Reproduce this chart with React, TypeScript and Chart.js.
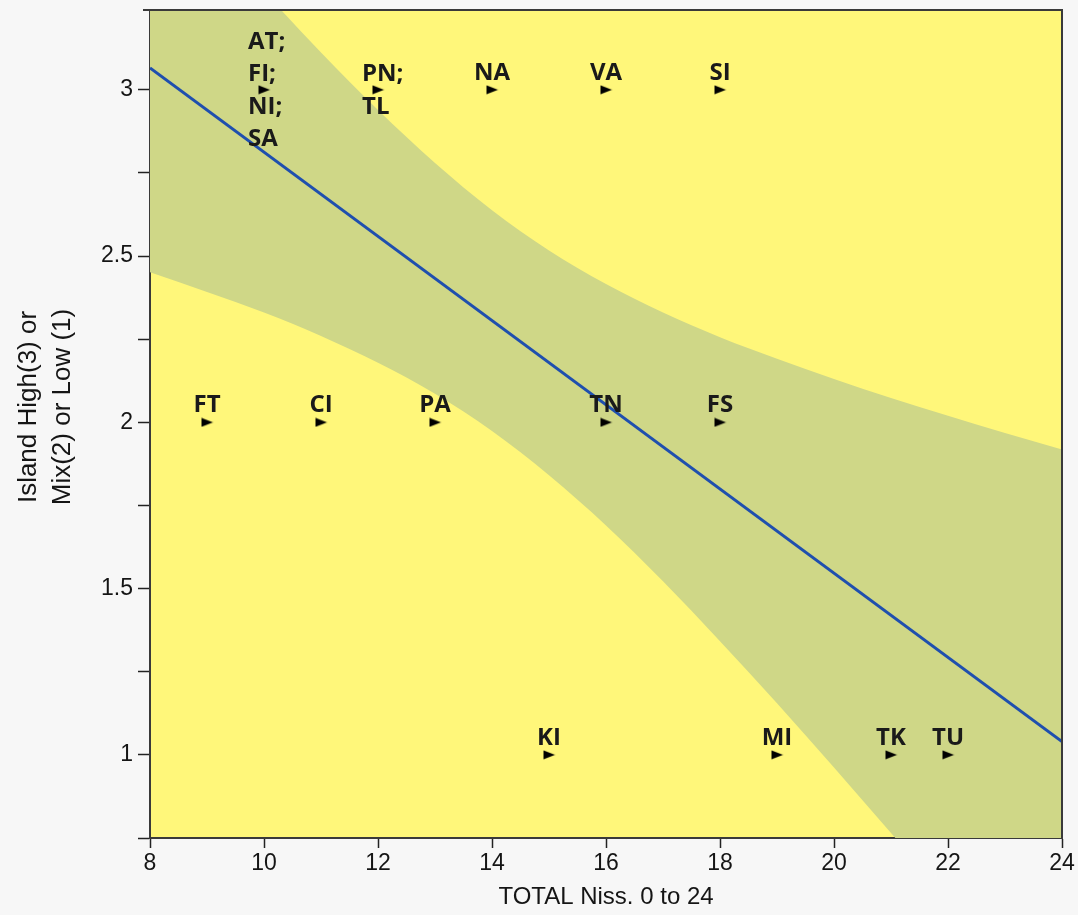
import React, { useEffect, useRef } from "react";
import { Chart, registerables } from "chart.js";

Chart.register(...registerables);

// ---- data ----
const pointX = [10, 12, 14, 16, 18, 9, 11, 13, 16, 18, 15, 19, 21, 22];
const pointY = [3, 3, 3, 3, 3, 2, 2, 2, 2, 2, 1, 1, 1, 1];
const pointLabels = [
  ["AT;", "FI;", "NI;", "SA"],
  ["PN;", "TL"],
  ["NA"],
  ["VA"],
  ["SI"],
  ["FT"],
  ["CI"],
  ["PA"],
  ["TN"],
  ["FS"],
  ["KI"],
  ["MI"],
  ["TK"],
  ["TU"],
];

const fitX = [8, 24];
const fitY = [3.066, 1.04];

const bandX = [8, 9, 10, 11, 12, 13, 14, 15, 16, 17, 18, 19, 20, 21, 22, 23, 24];
const bandUpper = [3.681, 3.486, 3.296, 3.112, 2.939, 2.78, 2.638, 2.517, 2.416, 2.33, 2.256, 2.191, 2.13, 2.073, 2.02, 1.968, 1.918];
const bandLower = [2.451, 2.392, 2.33, 2.26, 2.179, 2.086, 1.974, 1.841, 1.69, 1.522, 1.342, 1.155, 0.962, 0.765, 0.566, 0.364, 0.162];

const xTicks = [8, 10, 12, 14, 16, 18, 20, 22, 24];
const yTicks = [0.75, 1, 1.25, 1.5, 1.75, 2, 2.25, 2.5, 2.75, 3];
const yLabeled = [1, 1.5, 2, 2.5, 3];

const xTitle = "TOTAL Niss. 0 to 24";
const yTitle = ["Island High(3) or", "Mix(2) or Low (1)"];

const PAGE_BG = "#f7f7f7";
const PLOT_BG = "#fff77a";
const BAND = "#cfd787";
const LINE = "#1f4fae";
const FRAME = "#3a3a3a";
const TEXT = "#151515";
const AXIS_FONT = "'Liberation Sans', Arial, sans-serif";

function makeMarker() {
  const c = document.createElement("canvas");
  c.width = 13;
  c.height = 10;
  const ctx = c.getContext("2d")!;
  ctx.fillStyle = "#000";
  ctx.beginPath();
  ctx.moveTo(1, 0.5);
  ctx.lineTo(12.5, 5);
  ctx.lineTo(1, 9.5);
  ctx.closePath();
  ctx.fill();
  return c;
}

const bgPlugin = {
  id: "bg",
  beforeDraw(chart: any) {
    const { ctx, chartArea: a } = chart;
    ctx.save();
    ctx.fillStyle = PAGE_BG;
    ctx.fillRect(0, 0, chart.width, chart.height);
    ctx.fillStyle = PLOT_BG;
    ctx.fillRect(a.left, a.top, a.right - a.left, a.bottom - a.top);
    ctx.restore();
  },
  afterDraw(chart: any) {
    const { ctx, chartArea: a } = chart;
    ctx.save();
    ctx.strokeStyle = FRAME;
    ctx.lineWidth = 2;
    ctx.beginPath();
    ctx.moveTo(a.left - 7, a.top);
    ctx.lineTo(a.right + 1, a.top);
    ctx.moveTo(a.right, a.top);
    ctx.lineTo(a.right, a.bottom);
    ctx.stroke();
    // y title
    ctx.fillStyle = TEXT;
    ctx.font = `26px ${AXIS_FONT}`;
    ctx.textAlign = "center";
    ctx.textBaseline = "middle";
    yTitle.forEach((t, i) => {
      ctx.save();
      ctx.translate(29 + i * 34, 407);
      ctx.rotate(-Math.PI / 2);
      ctx.fillText(t, 0, 0);
      ctx.restore();
    });
    ctx.restore();
  },
};

const labelPlugin = {
  id: "pointLabels",
  afterDatasetsDraw(chart: any) {
    const { ctx, scales } = chart;
    ctx.save();
    ctx.fillStyle = "#1a1a1a";
    ctx.font = "bold 24px 'Open Sans', 'Noto Sans', sans-serif";
    ctx.textBaseline = "middle";
    pointLabels.forEach((lines, i) => {
      const px = scales.x.getPixelForValue(pointX[i]);
      const py = scales.y.getPixelForValue(pointY[i]);
      if (lines.length === 1) {
        ctx.textAlign = "center";
        ctx.fillText(lines[0], px, py - 17);
      } else {
        ctx.textAlign = "left";
        const step = 32.5;
        const start = py - ((lines.length - 1) * step) / 2;
        lines.forEach((l, j) => ctx.fillText(l, px - 16, start + j * step + 1));
      }
    });
    ctx.restore();
  },
};

export default function App() {
  const ref = useRef<HTMLCanvasElement>(null);
  useEffect(() => {
    const marker = makeMarker();
    const chart = new Chart(ref.current!, {
      type: "scatter",
      data: {
        datasets: [
          {
            label: "points",
            data: pointX.map((x, i) => ({ x, y: pointY[i] })),
            pointStyle: marker as any,
            pointRadius: 6,
            showLine: false,
          },
          {
            label: "fit",
            data: fitX.map((x, i) => ({ x, y: fitY[i] })),
            showLine: true,
            borderColor: LINE,
            borderWidth: 3,
            pointRadius: 0,
          },
          {
            label: "upper",
            data: bandX.map((x, i) => ({ x, y: bandUpper[i] })),
            showLine: true,
            borderWidth: 0,
            borderColor: "rgba(0,0,0,0)",
            backgroundColor: BAND,
            fill: "+1",
            pointRadius: 0,
            cubicInterpolationMode: "monotone",
          },
          {
            label: "lower",
            data: bandX.map((x, i) => ({ x, y: bandLower[i] })),
            showLine: true,
            borderWidth: 0,
            borderColor: "rgba(0,0,0,0)",
            pointRadius: 0,
            cubicInterpolationMode: "monotone",
          },
        ],
      },
      options: {
        animation: false,
        responsive: false,
        devicePixelRatio: 1,
        layout: { padding: { top: 10, right: 16, left: 0, bottom: 0 } },
        plugins: { legend: { display: false }, tooltip: { enabled: false } },
        scales: {
          x: {
            type: "linear",
            min: 8,
            max: 24,
            afterBuildTicks: (s: any) => {
              s.ticks = xTicks.map((v) => ({ value: v }));
            },
            afterFit: (s: any) => {
              s.height = 77;
              s.paddingLeft = 0;
              s.paddingRight = 0;
            },
            ticks: {
              color: TEXT,
              font: { family: AXIS_FONT, size: 23 },
              padding: 2,
              maxRotation: 0,
              callback: (v: any) => String(v),
            },
            grid: { drawOnChartArea: false, drawTicks: true, tickLength: 10, color: "#222", tickWidth: 1.5 },
            border: { color: FRAME, width: 2 },
            title: {
              display: true,
              text: xTitle,
              color: TEXT,
              font: { family: AXIS_FONT, size: 24 },
              padding: { top: 0, bottom: 3 },
            },
          },
          y: {
            type: "linear",
            min: 0.75,
            max: 3.24,
            afterBuildTicks: (s: any) => {
              s.ticks = yTicks.map((v) => ({ value: v }));
            },
            afterFit: (s: any) => {
              s.width = 150;
              s.paddingTop = 0;
              s.paddingBottom = 0;
            },
            ticks: {
              color: TEXT,
              font: { family: AXIS_FONT, size: 23 },
              padding: 5,
              callback: (v: any) => (yLabeled.includes(Number(v)) ? String(v) : ""),
            },
            grid: { drawOnChartArea: false, drawTicks: true, tickLength: 12, color: "#222", tickWidth: 1.5 },
            border: { color: FRAME, width: 2 },
          },
        },
      },
      plugins: [bgPlugin, labelPlugin],
    });
    return () => chart.destroy();
  }, []);
  return (
    <div style={{ position: "fixed", left: 0, top: 0, width: 1078, height: 915, background: PAGE_BG }}>
      <canvas ref={ref} width={1078} height={915} />
    </div>
  );
}
